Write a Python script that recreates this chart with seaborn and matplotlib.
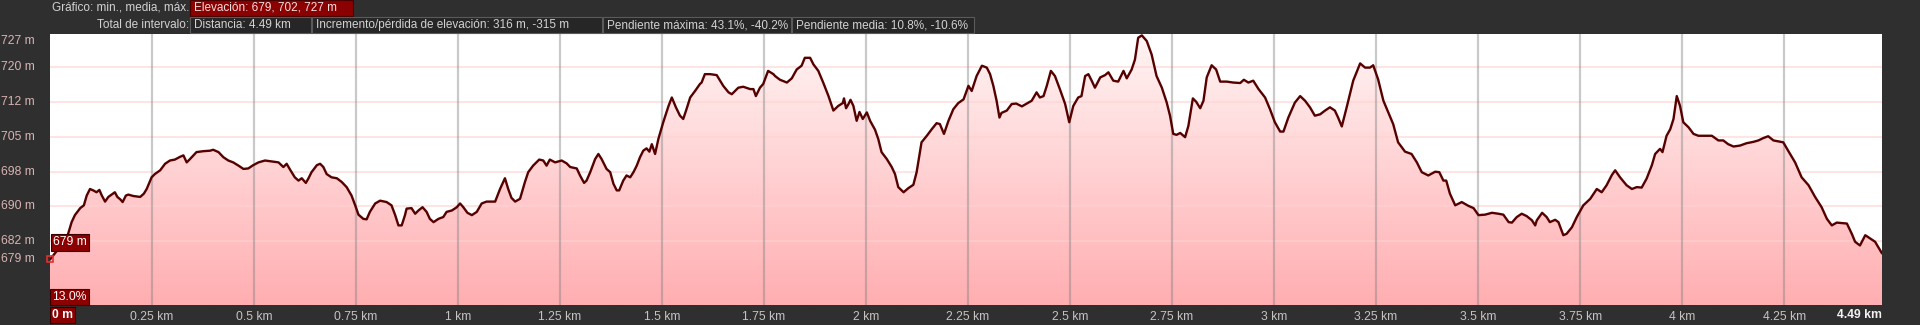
import numpy as np
import pandas as pd
import seaborn as sns
import matplotlib
matplotlib.use("Agg")
import matplotlib.pyplot as plt
from matplotlib.patches import Rectangle
from matplotlib.colors import LinearSegmentedColormap
from matplotlib import transforms

# ---------------- data ----------------
distance_km = [
    0.000, 0.041, 0.053, 0.061, 0.074, 0.083, 0.090, 0.098, 0.106, 0.114, 0.121, 0.127, 0.135, 0.143,
    0.151, 0.159, 0.165, 0.172, 0.178, 0.186, 0.192, 0.204, 0.221, 0.230, 0.237, 0.249, 0.257, 0.270,
    0.282, 0.294, 0.306, 0.319, 0.327, 0.335, 0.343, 0.359, 0.376, 0.392, 0.400, 0.413, 0.425, 0.437,
    0.449, 0.462, 0.474, 0.486, 0.498, 0.511, 0.527, 0.543, 0.560, 0.572, 0.580, 0.588, 0.600, 0.609,
    0.617, 0.627, 0.633, 0.641, 0.654, 0.662, 0.670, 0.678, 0.690, 0.703, 0.715, 0.727, 0.739, 0.748,
    0.756, 0.768, 0.776, 0.784, 0.797, 0.809, 0.825, 0.837, 0.846, 0.854, 0.862, 0.870, 0.874, 0.886,
    0.895, 0.903, 0.913, 0.923, 0.931, 0.940, 0.952, 0.964, 0.972, 0.985, 0.997, 1.005, 1.013, 1.023,
    1.034, 1.046, 1.058, 1.070, 1.091, 1.103, 1.115, 1.123, 1.131, 1.140, 1.152, 1.164, 1.172, 1.184,
    1.199, 1.209, 1.217, 1.225, 1.238, 1.254, 1.266, 1.275, 1.291, 1.299, 1.309, 1.315, 1.324, 1.336,
    1.344, 1.352, 1.364, 1.373, 1.381, 1.389, 1.395, 1.405, 1.413, 1.422, 1.430, 1.438, 1.446, 1.454,
    1.462, 1.469, 1.475, 1.483, 1.491, 1.503, 1.516, 1.524, 1.534, 1.544, 1.552, 1.560, 1.569, 1.581,
    1.593, 1.597, 1.605, 1.618, 1.634, 1.650, 1.663, 1.671, 1.687, 1.699, 1.716, 1.724, 1.730, 1.740,
    1.748, 1.760, 1.773, 1.777, 1.789, 1.806, 1.818, 1.830, 1.842, 1.850, 1.863, 1.871, 1.883, 1.895,
    1.908, 1.920, 1.932, 1.943, 1.946, 1.951, 1.957, 1.962, 1.969, 1.977, 1.984, 1.992, 2.002, 2.010,
    2.022, 2.030, 2.038, 2.051, 2.063, 2.071, 2.079, 2.092, 2.104, 2.116, 2.124, 2.136, 2.149, 2.161,
    2.173, 2.181, 2.191, 2.202, 2.214, 2.226, 2.239, 2.251, 2.259, 2.271, 2.284, 2.296, 2.304, 2.312,
    2.320, 2.327, 2.332, 2.345, 2.357, 2.368, 2.382, 2.394, 2.406, 2.418, 2.426, 2.435, 2.443, 2.453,
    2.463, 2.475, 2.488, 2.498, 2.508, 2.520, 2.528, 2.537, 2.545, 2.553, 2.561, 2.574, 2.586, 2.594,
    2.606, 2.618, 2.631, 2.639, 2.651, 2.659, 2.667, 2.676, 2.688, 2.700, 2.712, 2.725, 2.737, 2.745,
    2.753, 2.761, 2.770, 2.782, 2.790, 2.801, 2.809, 2.819, 2.827, 2.835, 2.847, 2.858, 2.868, 2.884,
    2.900, 2.917, 2.926, 2.937, 2.949, 2.962, 2.978, 2.990, 3.002, 3.015, 3.023, 3.035, 3.051, 3.064,
    3.076, 3.088, 3.100, 3.113, 3.125, 3.137, 3.149, 3.157, 3.166, 3.178, 3.194, 3.211, 3.223, 3.235,
    3.243, 3.255, 3.268, 3.280, 3.292, 3.304, 3.321, 3.337, 3.350, 3.362, 3.378, 3.395, 3.405, 3.415,
    3.422, 3.431, 3.444, 3.460, 3.476, 3.489, 3.501, 3.517, 3.534, 3.550, 3.562, 3.575, 3.583, 3.595,
    3.607, 3.619, 3.632, 3.640, 3.644, 3.657, 3.668, 3.676, 3.689, 3.697, 3.709, 3.717, 3.730, 3.742,
    3.758, 3.775, 3.791, 3.803, 3.815, 3.828, 3.836, 3.848, 3.864, 3.877, 3.889, 3.901, 3.913, 3.926,
    3.934, 3.946, 3.952, 3.962, 3.971, 3.979, 3.987, 3.995, 4.003, 4.016, 4.028, 4.040, 4.060, 4.073,
    4.089, 4.101, 4.113, 4.126, 4.142, 4.158, 4.175, 4.187, 4.199, 4.211, 4.224, 4.236, 4.248, 4.260,
    4.277, 4.293, 4.310, 4.326, 4.342, 4.355, 4.367, 4.379, 4.404, 4.416, 4.424, 4.436, 4.449, 4.461,
    4.473, 4.490,
]
elevation_m = [
    679.0, 683.5, 687.0, 688.5, 690.0, 690.6, 692.7, 694.1, 693.8, 693.4, 693.9, 692.7, 691.4, 692.4,
    692.9, 693.4, 692.4, 691.9, 691.3, 692.7, 692.9, 692.6, 692.4, 693.1, 694.1, 696.6, 697.3, 698.1,
    699.5, 700.2, 700.4, 701.0, 701.3, 699.8, 700.5, 702.0, 702.2, 702.3, 702.5, 702.0, 700.9, 700.2,
    699.8, 699.1, 698.4, 698.5, 699.2, 699.8, 700.2, 700.0, 699.8, 698.8, 699.5, 698.3, 696.6, 695.9,
    696.4, 695.4, 696.3, 697.7, 699.2, 699.5, 698.8, 697.3, 696.6, 696.4, 695.6, 694.5, 692.7, 690.6,
    688.6, 687.7, 687.6, 689.2, 691.0, 691.6, 691.3, 690.6, 688.5, 686.3, 686.3, 688.5, 689.9, 690.0,
    688.8, 689.5, 690.2, 689.2, 687.7, 687.0, 687.7, 688.1, 689.2, 689.5, 690.2, 691.0, 690.2, 689.0,
    688.5, 689.2, 691.0, 691.4, 691.4, 694.1, 696.4, 694.1, 692.2, 691.4, 692.0, 695.6, 697.7, 699.1,
    700.4, 700.2, 699.1, 700.4, 699.8, 700.2, 699.6, 698.8, 698.5, 697.0, 695.4, 695.9, 697.7, 700.5,
    701.6, 700.5, 698.4, 697.7, 695.2, 693.8, 693.8, 695.9, 697.0, 696.6, 697.7, 699.1, 700.9, 702.3,
    702.8, 702.1, 703.7, 701.6, 704.8, 708.4, 711.9, 713.7, 711.6, 709.8, 709.1, 711.2, 713.7, 715.1,
    716.6, 716.9, 718.7, 718.7, 718.5, 716.2, 714.8, 714.4, 715.8, 716.0, 715.5, 715.5, 714.0, 715.8,
    716.6, 719.4, 718.7, 718.3, 717.5, 716.9, 717.8, 719.7, 720.5, 722.2, 722.2, 720.8, 719.4, 716.9,
    714.0, 710.9, 711.9, 712.5, 713.5, 711.4, 712.3, 713.2, 711.9, 708.7, 710.6, 709.1, 710.5, 708.7,
    706.8, 704.8, 702.0, 700.5, 698.8, 697.3, 694.5, 693.4, 694.3, 695.0, 697.7, 704.1, 705.5, 706.9,
    708.2, 708.0, 705.9, 708.7, 711.2, 712.5, 713.3, 716.2, 715.1, 718.3, 720.5, 720.1, 718.7, 716.2,
    713.0, 709.4, 710.4, 710.9, 712.3, 712.4, 711.8, 712.4, 713.0, 714.8, 713.7, 714.0, 716.2, 719.4,
    718.3, 715.5, 712.3, 708.4, 711.9, 713.7, 714.0, 718.3, 718.7, 717.3, 715.8, 718.0, 718.5, 719.1,
    717.3, 717.1, 719.4, 717.8, 719.7, 721.8, 726.5, 727.0, 725.8, 722.9, 718.3, 715.8, 712.6, 709.8,
    705.9, 705.7, 706.1, 705.2, 707.6, 713.5, 712.8, 711.4, 713.0, 718.0, 720.6, 719.7, 717.1, 717.1,
    716.9, 716.8, 717.5, 716.9, 717.3, 715.5, 713.7, 711.2, 708.4, 706.4, 706.4, 709.4, 712.6, 714.0,
    713.0, 711.6, 709.8, 710.1, 710.9, 711.6, 710.9, 709.4, 707.5, 711.6, 717.3, 721.0, 720.1, 720.1,
    720.6, 717.6, 713.0, 710.5, 708.0, 704.1, 702.1, 701.6, 699.8, 697.7, 697.0, 697.8, 697.7, 695.9,
    695.9, 693.1, 690.6, 691.3, 690.5, 690.0, 688.5, 688.6, 689.0, 688.8, 688.6, 687.0, 686.9, 688.1,
    688.8, 688.3, 687.4, 686.3, 687.4, 689.0, 688.1, 687.0, 687.5, 687.0, 684.2, 684.5, 685.9, 688.1,
    690.6, 692.0, 694.1, 693.4, 694.9, 697.1, 698.1, 696.6, 694.9, 694.1, 694.5, 694.4, 696.3, 699.2,
    701.6, 702.7, 702.0, 705.5, 706.9, 709.1, 714.0, 711.9, 708.4, 707.3, 705.9, 705.5, 705.5, 705.5,
    704.5, 704.5, 703.7, 703.2, 703.4, 703.9, 704.2, 704.5, 705.0, 705.4, 704.5, 704.3, 704.1, 702.3,
    699.8, 696.6, 694.9, 692.4, 690.2, 687.7, 686.3, 686.9, 686.7, 684.5, 682.8, 682.0, 684.2, 683.5,
    682.8, 680.3,
]

x_tick_values = [0.25, 0.5, 0.75, 1.0, 1.25, 1.5, 1.75, 2.0, 2.25, 2.5, 2.75, 3.0, 3.25, 3.5, 3.75, 4.0, 4.25]
x_tick_labels = ["0.25 km", "0.5 km", "0.75 km", "1 km", "1.25 km", "1.5 km", "1.75 km", "2 km",
                 "2.25 km", "2.5 km", "2.75 km", "3 km", "3.25 km", "3.5 km", "3.75 km", "4 km", "4.25 km"]
y_grid_values = [682.9, 690.4, 697.8, 705.3, 712.8, 720.3]
y_grid_labels = ["682 m", "690 m", "698 m", "705 m", "712 m", "720 m"]
elev_min, elev_max = 679, 727
total_km = 4.49
start_label = "0 m"
end_label = "4.49 km"
min_label = "679 m"
max_label = "727 m"
grade_label = "13.0%"
header_row1_label = "Gráfico: min., media, máx."
header_row1_box = "Elevación: 679, 702, 727 m"
header_row2_label = "Total de intervalo:"
header_row2_boxes = ["Distancia: 4.49 km",
                     "Incremento/pérdida de elevación: 316 m, -315 m",
                     "Pendiente máxima: 43.1%, -40.2%",
                     "Pendiente media: 10.8%, -10.6%"]

# ---------------- style ----------------
sns.set_theme(style="white")
plt.rcParams["font.family"] = ["Liberation Sans", "DejaVu Sans"]

W, H = 1920, 325
BG = "#2f2f2f"
DARKRED = "#8b0000"
fig = plt.figure(figsize=(W / 100, H / 100), dpi=100, facecolor=BG)

def fx(px):
    return px / W

def fy(py):
    return 1 - py / H

ax_left, ax_right, ax_top, ax_bottom = 50, 1882, 34, 305
ax = fig.add_axes([fx(ax_left), fy(ax_bottom), fx(ax_right - ax_left), (ax_bottom - ax_top) / H])
ax.set_facecolor("white")
for s in ax.spines.values():
    s.set_visible(False)

ymin, ymax = 669.25, 727.3
ax.set_xlim(0, total_km)
ax.set_ylim(ymin, ymax)

# gradient fill under the profile
cmap = LinearSegmentedColormap.from_list("elev", ["#ffaeb1", "#fff5f5"])
grad = np.linspace(0, 1, 256).reshape(-1, 1)
im = ax.imshow(grad, extent=[0, total_km, ymin, ymax], origin="lower", aspect="auto",
               cmap=cmap, zorder=1, interpolation="bilinear")
poly = ax.fill_between(distance_km, elevation_m, ymin, color="none", lw=0, zorder=1)
im.set_clip_path(poly.get_paths()[0], transform=ax.transData)
ax.set_xlim(0, total_km)
ax.set_ylim(ymin, ymax)

# gridlines
for v in y_grid_values:
    ax.axhline(v, color=(1.0, 0.82, 0.82, 0.65), lw=1.3, zorder=2)
for v in x_tick_values:
    ax.axvline(v, color=(0.5, 0.5, 0.5, 0.42), lw=1.6, zorder=2)

# profile line
df = pd.DataFrame({"km": distance_km, "elev": elevation_m})
sns.lineplot(data=df, x="km", y="elev", ax=ax, color="#560000", lw=1.7,
             sort=False, estimator=None, zorder=4)
ax.set_xlabel("")
ax.set_ylabel("")

# x ticks
ax.set_xticks(x_tick_values)
ax.set_xticklabels(x_tick_labels, color="#c4c4c4", fontsize=8.7)
ax.tick_params(axis="x", length=0, pad=4)
ax.set_yticks([])

# y labels at the left edge
ytrans = transforms.blended_transform_factory(fig.transFigure, ax.transData)
ylab_color = "#d9b3b3"
for v, lab in zip(y_grid_values, y_grid_labels):
    fig.text(fx(1), v, lab, transform=ytrans, ha="left", va="center", color=ylab_color, fontsize=8.7)
fig.text(fx(1), elev_min, min_label, transform=ytrans, ha="left", va="center", color=ylab_color, fontsize=8.7)
fig.text(fx(1), fy(35), max_label, ha="left", va="top", color=ylab_color, fontsize=8.7)

# start marker + labels
ax.plot([distance_km[0]], [elevation_m[0]], marker="s", ms=5, mfc="none", mec="#e03030",
        mew=1.2, clip_on=False, zorder=6)
box = dict(boxstyle="square,pad=0.18", fc=DARKRED, ec="#3a0000", lw=0.8)
ax.annotate(min_label, xy=(0, elevation_m[0]), xytext=(2, 8), textcoords="offset points",
            ha="left", va="bottom", color="white", fontsize=8.7, bbox=box, zorder=7)
fig.text(fx(52), fy(297), grade_label, ha="left", va="center", color="white", fontsize=8.7,
         bbox=box, zorder=7)
fig.text(fx(52), fy(315), start_label, ha="left", va="center", color="white", fontsize=8.7,
         fontweight="bold", bbox=box, zorder=7)
fig.text(fx(1882), fy(315), end_label, ha="right", va="center", color="#f2f2f2", fontsize=8.7,
         fontweight="bold")

# header
hdr_color = "#d2d2d2"
hdr_fs = 8.5

def add_box(x0, x1, y0, y1, fc, ec):
    fig.add_artist(Rectangle((fx(x0), fy(y1)), fx(x1 - x0), (y1 - y0) / H,
                             transform=fig.transFigure, fc=fc, ec=ec, lw=0.8))

fig.text(fx(189), fy(8), header_row1_label, ha="right", va="center", color=hdr_color, fontsize=hdr_fs)
add_box(190, 353, 0, 16, DARKRED, "#4a0000")
fig.text(fx(194), fy(8), header_row1_box, ha="left", va="center", color="#f0e0e0", fontsize=hdr_fs)

fig.text(fx(189), fy(25), header_row2_label, ha="right", va="center", color=hdr_color, fontsize=hdr_fs)
edges = [190, 312, 603, 792, 975]
for i, lab in enumerate(header_row2_boxes):
    add_box(edges[i], edges[i + 1] - 1, 17, 33, "#262626", "#5a5a5a")
    fig.text(fx(edges[i] + 4), fy(25), lab, ha="left", va="center", color=hdr_color, fontsize=hdr_fs)

fig.savefig("out.png", dpi=100, facecolor=BG)
